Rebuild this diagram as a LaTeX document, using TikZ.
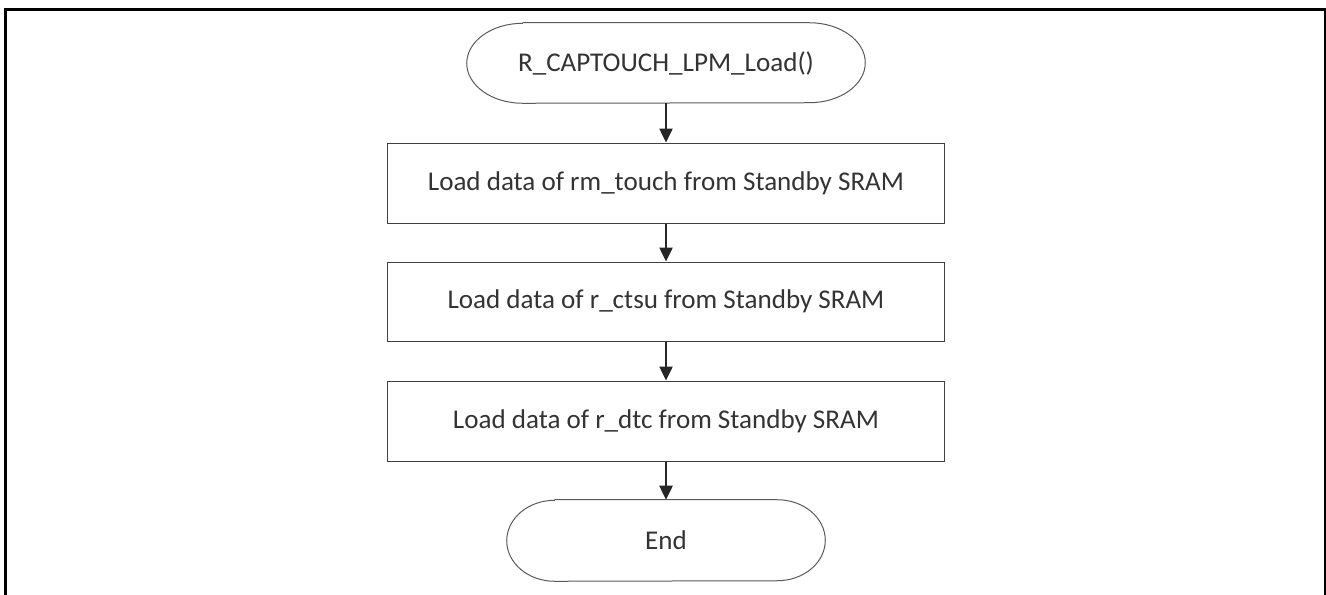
\documentclass[tikz,border=0pt]{standalone}
\usepackage{fontspec}
\setmainfont{Carlito}
\usetikzlibrary{arrows.meta}
\definecolor{borde}{HTML}{404040}
\definecolor{bordeterm}{HTML}{5A5A5A}
\definecolor{texto}{HTML}{333333}

\begin{document}
\begin{tikzpicture}[x=0.75pt,y=-0.75pt,
  caja/.style={draw=borde,line width=0.75pt,minimum width=417.75pt,minimum height=60pt,
    inner sep=0pt,text=texto,font=\fontsize{20.3}{24}\selectfont},
  terminal/.style={minimum height=60pt,inner sep=0pt,text=texto,font=\fontsize{20.3}{24}\selectfont},
  flecha/.style={draw=black!85,line width=1pt,-{Triangle[length=10.5pt,width=10pt]}}]
\useasboundingbox (0,0) rectangle (1326,594);
\draw[line width=2.25pt] (5,600) -- (5,9) -- (1325,9) -- (1325,600);

\node[terminal,minimum width=298.5pt] (inicio) at (666,63) {R\_CAPTOUCH\_LPM\_Load()};
\node[caja] (touch) at (666,183) {Load data of rm\_touch from Standby SRAM};
\node[caja,minimum height=59.25pt] (ctsu) at (666,301.5) {Load data of r\_ctsu from Standby SRAM};
\node[caja] (dtc) at (666,421) {Load data of r\_dtc from Standby SRAM};
\node[terminal,minimum width=238.5pt,minimum height=60.75pt] (fin) at (666,540.5) {End};

% bordes de los terminales
\foreach \n/\r/\h in {inicio/42pt/30pt,fin/36pt/30.375pt}
  \draw[draw=bordeterm,line width=0.75pt] ([xshift=\r]\n.north west) -- ([xshift=-\r]\n.north east)
    arc[start angle=90,end angle=-90,x radius=\r,y radius=\h]
    -- ([xshift=\r]\n.south west)
    arc[start angle=270,end angle=90,x radius=\r,y radius=\h];

\draw[flecha] (inicio) -- (touch);
\draw[flecha] (touch) -- (ctsu);
\draw[flecha] (ctsu) -- (dtc);
\draw[flecha] (dtc) -- (fin);
\end{tikzpicture}
\end{document}
